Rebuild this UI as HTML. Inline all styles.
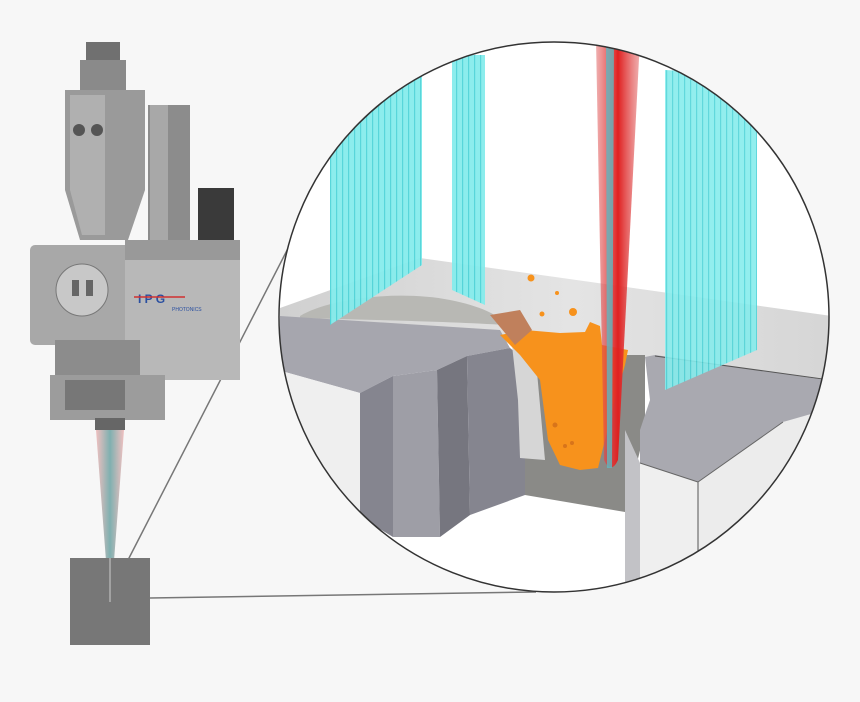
<!DOCTYPE html>
<html><head><meta charset="utf-8"><style>
html,body{margin:0;padding:0;background:#f7f7f7;}
svg{display:block;}
</style></head><body>
<svg width="860" height="702" viewBox="0 0 860 702" xmlns="http://www.w3.org/2000/svg">
<defs>
<clipPath id="c"><circle cx="554" cy="317" r="275"/></clipPath>
<linearGradient id="beam" x1="0" x2="1">
<stop offset="0" stop-color="#e06060" stop-opacity=".5"/><stop offset=".5" stop-color="#e02020"/><stop offset="1" stop-color="#e06060" stop-opacity=".5"/></linearGradient>
<linearGradient id="cone" x1="0" x2="1">
<stop offset="0" stop-color="#f0c0c0"/><stop offset=".5" stop-color="#7fb0b0"/><stop offset="1" stop-color="#f0c0c0"/></linearGradient>
<linearGradient id="top" x1="0" x2="1">
<stop offset="0" stop-color="#d0d0d0"/><stop offset=".5" stop-color="#e4e4e4"/><stop offset="1" stop-color="#d4d4d4"/></linearGradient>
<pattern id="cy" width="6" height="10" patternUnits="userSpaceOnUse">
<rect width="6" height="10" fill="#86ecec"/><rect width="1.2" height="10" fill="#4fd4d8"/></pattern>
</defs>
<rect width="860" height="702" fill="#f7f7f7"/>
<line x1="128" y1="560" x2="300" y2="225" stroke="#777" stroke-width="1.5"/>
<line x1="150" y1="598" x2="536" y2="592" stroke="#777" stroke-width="1.5"/>
<circle cx="554" cy="317" r="275" fill="#fff"/>
<g clip-path="url(#c)">
<polygon points="280,308 420,258 860,320 860,385 640,357 280,318" fill="url(#top)"/>
<path d="M300,316 C330,298 400,290 450,300 C480,306 500,315 505,325 C460,322 380,320 300,318 Z" fill="#b8b8b4"/>
<polygon points="280,316 500,330 510,348 467,356 437,370 393,376 360,393 285,372 280,370" fill="#a6a6ae"/>
<polygon points="280,370 285,372 360,393 360,540 280,540" fill="#efefef"/>
<polygon points="360,393 393,376 393,537 360,517" fill="#85858f"/>
<polygon points="393,376 437,370 440,537 393,537" fill="#9e9ea6"/>
<polygon points="437,370 467,356 470,515 440,537" fill="#76767f"/>
<polygon points="467,356 510,348 525,360 525,495 470,515" fill="#85858f"/>
<polygon points="525,355 645,355 645,430 625,512 525,495" fill="#8a8a87"/>
<polygon points="645,357 655,355 860,385 860,410 783,422 698,482 640,463 640,430 650,400" fill="#a9a9b0"/>
<polygon points="640,463 698,482 698,600 640,600" fill="#efefef"/>
<polygon points="698,482 783,422 860,400 860,600 698,600" fill="#ececec"/>
<line x1="698" y1="482" x2="698" y2="600" stroke="#555" stroke-width="1"/>
<line x1="640" y1="463" x2="698" y2="482" stroke="#666" stroke-width="1"/>
<line x1="698" y1="482" x2="783" y2="422" stroke="#666" stroke-width="1"/>
<polygon points="625,430 640,463 640,600 625,600" fill="#c2c2c6"/>
<line x1="655" y1="356" x2="830" y2="380" stroke="#555" stroke-width="1"/>
<path d="M512,345 L535,350 L545,460 L520,458 L518,400 Z" fill="#d6d6d6"/>
<path d="M500,335 L525,330 L560,333 L585,332 L590,322 L600,326 L602,345 L628,350 L625,365 L615,400 L605,440 L598,468 L580,470 L560,465 L548,440 L540,380 L520,355 Z" fill="#f7921c"/>
<path d="M490,315 L520,310 L532,330 L515,345 Z" fill="#c0805c"/>
<circle cx="555" cy="425" r="2.5" fill="#d8741a"/><circle cx="565" cy="446" r="2" fill="#d8741a"/><circle cx="572" cy="443" r="2" fill="#d8741a"/>
<circle cx="531" cy="278" r="3.5" fill="#f7921c"/>
<circle cx="573" cy="312" r="4" fill="#f7921c"/>
<circle cx="542" cy="314" r="2.5" fill="#f7921c"/>
<circle cx="557" cy="293" r="2" fill="#f7921c"/>
<path d="M596,40 L640,40 L618,460 Q611,475 604,460 Z" fill="url(#beam)"/>
<polygon points="606,40 614,40 612,468 607,468" fill="#5fb8c0" opacity=".8"/>
<polygon points="330,80 422,75 422,265 330,325" fill="url(#cy)" opacity=".95"/>
<polygon points="452,55 485,55 485,305 452,290" fill="url(#cy)" opacity=".95"/>
<polygon points="665,70 757,75 757,350 665,390" fill="url(#cy)" opacity=".9"/>
</g>
<circle cx="554" cy="317" r="275" fill="none" stroke="#333" stroke-width="1.5"/>
<rect x="86" y="42" width="34" height="20" fill="#707070"/>
<rect x="80" y="60" width="46" height="30" fill="#8a8a8a"/>
<polygon points="65,90 145,90 145,190 128,240 80,240 65,190" fill="#9a9a9a"/>
<polygon points="70,95 105,95 105,235 82,235 70,190" fill="#b0b0b0"/>
<circle cx="79" cy="130" r="6" fill="#555"/><circle cx="97" cy="130" r="6" fill="#555"/>
<rect x="148" y="105" width="42" height="145" fill="#8c8c8c"/>
<rect x="150" y="105" width="18" height="145" fill="#a8a8a8"/>
<rect x="198" y="188" width="36" height="60" fill="#3a3a3a"/>
<rect x="30" y="245" width="100" height="100" rx="5" fill="#a8a8a8"/>
<circle cx="82" cy="290" r="26" fill="#c8c8c8" stroke="#777"/>
<rect x="72" y="280" width="7" height="16" fill="#666"/><rect x="86" y="280" width="7" height="16" fill="#666"/>
<rect x="125" y="240" width="115" height="140" fill="#b8b8b8"/>
<rect x="125" y="240" width="115" height="20" fill="#999"/>
<text x="138" y="303" font-family="Liberation Sans, sans-serif" font-size="12" font-weight="bold" fill="#2a4fa0">I P G</text>
<line x1="134" y1="297" x2="185" y2="297" stroke="#d03030" stroke-width="1.5"/>
<text x="172" y="311" font-family="Liberation Sans, sans-serif" font-size="5" fill="#2a4fa0">PHOTONICS</text>
<rect x="55" y="340" width="85" height="40" fill="#8c8c8c"/>
<rect x="50" y="375" width="115" height="45" fill="#9c9c9c"/>
<rect x="65" y="380" width="60" height="30" fill="#777"/>
<rect x="95" y="418" width="30" height="12" fill="#666"/>
<polygon points="96,430 124,430 111,600 109,600" fill="url(#cone)"/>
<rect x="70" y="558" width="80" height="87" fill="#777"/>
<line x1="110" y1="558" x2="110" y2="602" stroke="#ccc" stroke-width="1"/>
</svg>
</body></html>
